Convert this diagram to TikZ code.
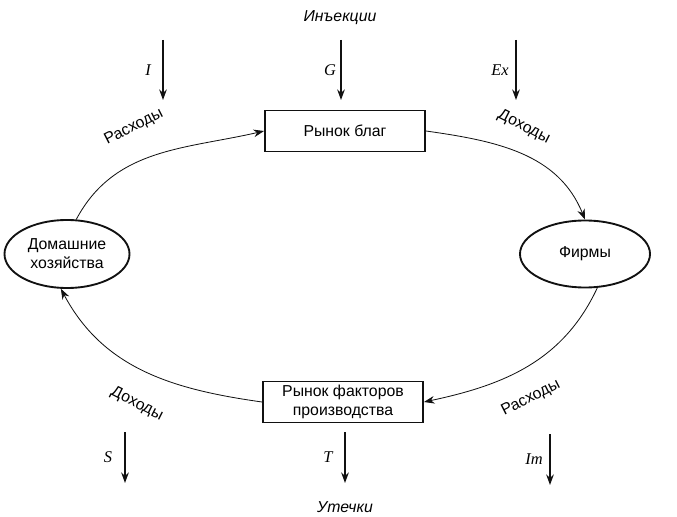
\documentclass[tikz,border=0pt]{standalone}
\usepackage{fontspec}
\setmainfont{Liberation Sans}
\newfontfamily\varfont{Liberation Serif}
\usetikzlibrary{arrows.meta,positioning,shapes.geometric}
\definecolor{ink}{HTML}{111111}

\begin{document}
\begin{tikzpicture}[x=0.03cm,y=-0.03cm,>={Stealth[length=9pt,width=6.5pt]},
    market/.style={draw=ink,line width=1.6pt,minimum width=4.8cm,minimum height=1.23cm,inner sep=1pt,align=center,font=\fontsize{13.5}{16}\selectfont},
    agent/.style={ellipse,draw=ink,line width=1.6pt,inner sep=0pt,align=center,font=\fontsize{13.5}{16}\selectfont},
    flowlbl/.style={font=\fontsize{13.5}{16}\selectfont},
    varlbl/.style={font=\varfont\itshape\fontsize{14}{16}\selectfont},
    flow/.style={->,ink,line width=0.7pt},
    side/.style={->,ink,line width=1pt}]
        \useasboundingbox (0,0) rectangle (677,517);
        % markets and agents
        \node[market] (goods) at (345,131) {Рынок благ};
        \node[market] (factors) at (343,402) {Рынок факторов\\производства};
        \node[agent,minimum width=3.75cm,minimum height=2.04cm] (house) at (67,254) {Домашние\\хозяйства};
        \node[agent,minimum width=3.9cm,minimum height=2.01cm] (firms) at (585,254) {Фирмы};
        % circular flow
        \draw[flow] (house.75) to[out=62,in=193] (goods.west);
        \draw[flow] (goods.east) to[out=-8,in=112] (firms.north);
        \draw[flow] (firms.-70) to[out=-115,in=12] (factors.east);
        \draw[flow] (factors.west) to[out=172,in=-62] (house.-100);
        \node[flowlbl,rotate=27] (spendtop) at (134,127) {Расходы};
        \node[flowlbl,rotate=-27] (incometop) at (524,127) {Доходы};
        \node[flowlbl,rotate=-27] (incomebot) at (137,404) {Доходы};
        \node[flowlbl,rotate=27] (spendbot) at (531,398) {Расходы};
        % injections and leakages
        \node[flowlbl,font=\itshape\fontsize{13.5}{16}\selectfont] (inj) at (340,18) {Инъекции};
        \node[flowlbl,font=\itshape\fontsize{13.5}{16}\selectfont] (leak) at (345,507) {Утечки};
        \foreach \nm/\x/\ya/\yb/\lx/\lab in {inv/163/40/100/148/I,gov/341/40/100/330/G,exp/516/40/100/500/Ex,sav/125/432/483/108/S,tax/345/432/483/328/T,imp/550/434/485/534/Im}{
          \coordinate (\nm-a) at (\x,\ya);
          \coordinate (\nm-b) at (\x,\yb);
          \draw[side] (\nm-a) -- (\nm-b);
          \node[varlbl] (\nm-l) at (\lx,{(\ya+\yb)/2}) {\lab};
        }
      \end{tikzpicture}
\end{document}
